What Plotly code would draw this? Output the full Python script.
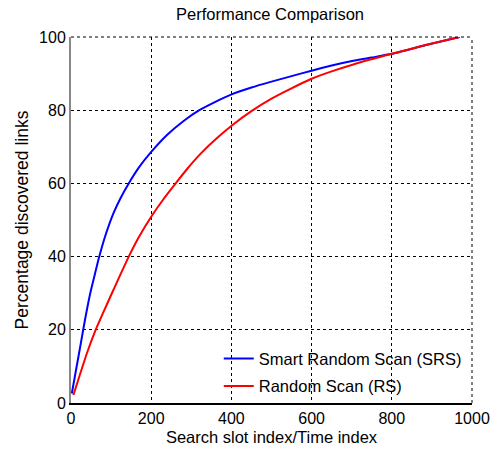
import plotly.graph_objects as go

srs_x = [2, 14, 23, 35, 48, 60, 69, 85, 106, 125, 144, 169, 200, 240, 280, 320, 360, 402,
         450, 500, 550, 600, 650, 704, 750, 800, 885, 969]
srs_y = [2.6, 9.9, 15.4, 22.8, 30.0, 35.4, 39.4, 45.5, 51.9, 56.3, 60.0, 64.3, 68.6, 73.3,
         77.0, 80.0, 82.3, 84.4, 86.2, 87.8, 89.3, 90.8, 92.2, 93.5, 94.4, 95.4, 97.8, 100]

rs_x = [6, 18, 39, 60, 80, 100, 122, 144, 169, 200, 230, 261, 290, 324, 360, 402, 449, 499,
        541, 600, 650, 704, 800, 885, 969]
rs_y = [2.2, 6.3, 13.4, 19.6, 24.6, 29.5, 34.8, 40.0, 45.3, 50.9, 55.6, 60.0, 64.0, 68.2,
        72.0, 75.9, 79.7, 83.1, 85.5, 88.6, 90.6, 92.5, 95.4, 97.8, 100]

x_ticks = [0, 200, 400, 600, 800, 1000]
y_ticks = [0, 20, 40, 60, 80, 100]

fig = go.Figure()
fig.add_trace(go.Scatter(x=srs_x, y=srs_y, mode="lines", name="Smart Random Scan (SRS)",
                         legendgroup="a",
                         line=dict(color="#0000ff", width=2, shape="spline", smoothing=0.5)))
fig.add_trace(go.Scatter(x=rs_x, y=rs_y, mode="lines", name="Random Scan (RS)",
                         legendgroup="b",
                         line=dict(color="#ff0000", width=2, shape="spline", smoothing=0.5)))

font = "Liberation Sans, Arial, sans-serif"
dash = "3px,3px"
fig.update_layout(
    width=492, height=452,
    margin=dict(l=71, r=20, t=37, b=49, autoexpand=False),
    plot_bgcolor="white", paper_bgcolor="white",
    font=dict(family=font, size=16, color="black"),
    title=dict(text="Performance Comparison", x=270 / 492, xanchor="center", y=1 - 8 / 452,
               yanchor="top", font=dict(size=16.5, family=font, color="black")),
    showlegend=True,
    legend=dict(x=0.3685, y=-0.001, xanchor="left", yanchor="bottom", bgcolor="rgba(0,0,0,0)",
                font=dict(size=16.5, family=font), traceorder="grouped", tracegroupgap=3),
    xaxis=dict(range=[0, 1000], tickvals=x_ticks, showgrid=True, gridcolor="black", gridwidth=1,
               griddash=dash, showline=True, linecolor="black", linewidth=1.5, zeroline=False,
               automargin=False, ticks="",
               title=dict(text="Search slot index/Time index", standoff=5, font=dict(size=16.5)),
               tickfont=dict(size=16)),
    yaxis=dict(range=[0, 100], tickvals=y_ticks, showgrid=True, gridcolor="black", gridwidth=1,
               griddash=dash, showline=True, linecolor="#888888", linewidth=2, zeroline=False,
               automargin=False, ticks="",
               title=dict(text="Percentage discovered links", standoff=6, font=dict(size=17.5)),
               tickfont=dict(size=16)),
    shapes=[
        dict(type="line", xref="paper", yref="paper", x0=0, x1=1, y0=1, y1=1,
             line=dict(color="black", width=1, dash=dash)),
        dict(type="line", xref="paper", yref="paper", x0=1, x1=1, y0=0, y1=1,
             line=dict(color="black", width=1, dash=dash)),
    ],
)
fig.write_html("out.html")
